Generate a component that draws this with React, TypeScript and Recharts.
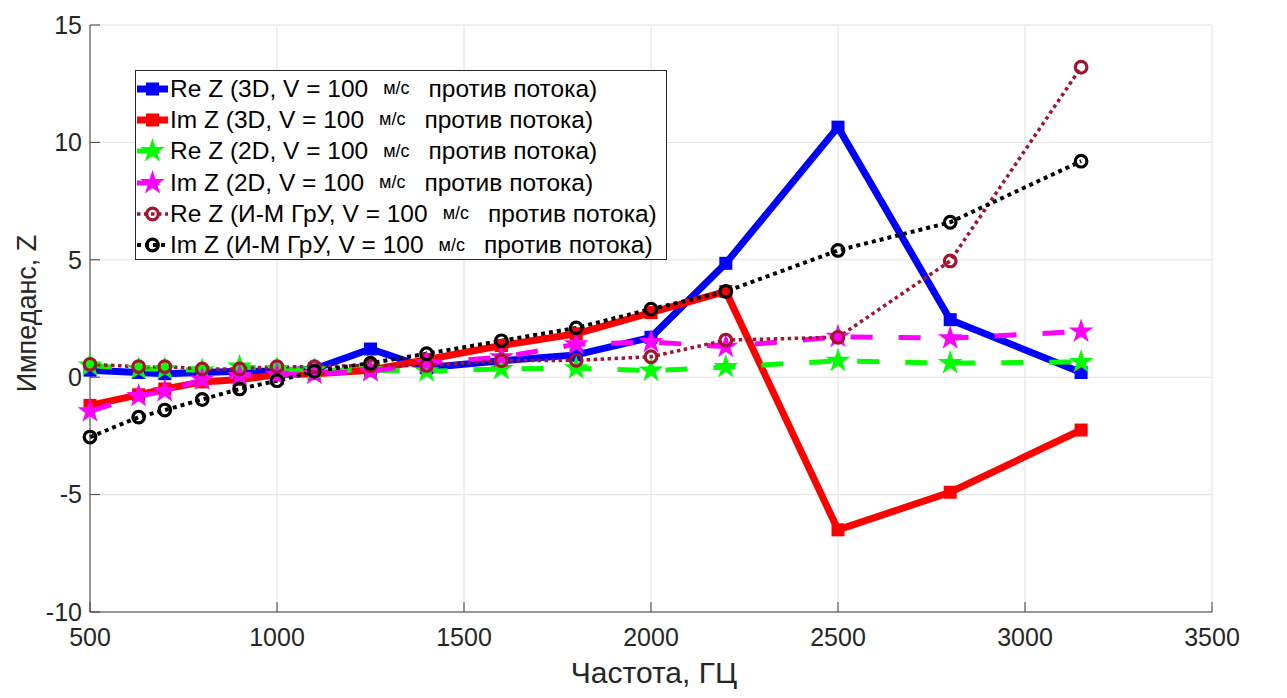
import { CartesianGrid, Legend, Line, LineChart, XAxis, YAxis } from "recharts";

// ---------------------------------------------------------------------------
// Data
// ---------------------------------------------------------------------------

const FREQ = [500, 630, 700, 800, 900, 1000, 1100, 1250, 1400, 1600, 1800, 2000, 2200, 2500, 2800, 3150];

const RE_3D = [0.3, 0.2, 0.15, 0.2, 0.25, 0.25, 0.35, 1.2, 0.4, 0.7, 0.95, 1.7, 4.85, 10.65, 2.45, 0.2];
const IM_3D = [-1.2, -0.75, -0.5, -0.2, -0.1, 0.1, 0.15, 0.3, 0.75, 1.35, 1.85, 2.75, 3.65, -6.5, -4.9, -2.25];
const RE_2D = [0.5, 0.35, 0.35, 0.3, 0.45, 0.35, 0.3, 0.3, 0.25, 0.35, 0.38, 0.28, 0.43, 0.7, 0.6, 0.65];
const IM_2D = [-1.45, -0.8, -0.6, -0.1, 0.05, 0.1, 0.15, 0.25, 0.6, 0.85, 1.4, 1.5, 1.3, 1.72, 1.66, 1.95];
const RE_IM = [0.55, 0.45, 0.45, 0.35, 0.35, 0.45, 0.45, 0.5, 0.5, 0.7, 0.72, 0.87, 1.58, 1.7, 4.95, 13.2];
const IM_IM = [-2.55, -1.7, -1.4, -0.95, -0.5, -0.15, 0.25, 0.6, 1.0, 1.55, 2.1, 2.9, 3.65, 5.4, 6.6, 9.2];

const X_TICKS = [500, 1000, 1500, 2000, 2500, 3000, 3500];
const Y_TICKS = [-10, -5, 0, 5, 10, 15];

const X_LABEL = "Частота, ГЦ";
const Y_LABEL = "Импеданс, Z";

const SERIES = [
  { key: "re3d", values: RE_3D, head: "Re Z (3D, V = 100", color: "#0000ff", width: 7, dash: undefined, marker: "square" },
  { key: "im3d", values: IM_3D, head: "Im Z (3D, V = 100", color: "#ff0000", width: 7, dash: undefined, marker: "square" },
  { key: "re2d", values: RE_2D, head: "Re Z (2D, V = 100", color: "#00ff00", width: 5, dash: "22 26", marker: "star" },
  { key: "im2d", values: IM_2D, head: "Im Z (2D, V = 100", color: "#ff00ff", width: 5, dash: "22 26", marker: "star" },
  { key: "reim", values: RE_IM, head: "Re Z (И-М ГрУ, V = 100", color: "#a2142f", width: 3.5, dash: "3.5 3.5", marker: "circle" },
  { key: "imim", values: IM_IM, head: "Im Z (И-М ГрУ, V = 100", color: "#000000", width: 4, dash: "4 4", marker: "circle" },
];

const TEXT = "#262626";
const FONT = "'Liberation Sans', Arial, sans-serif";

const data = FREQ.map((f, i) => {
  const row: Record<string, number> = { freq: f };
  SERIES.forEach((s) => (row[s.key] = s.values[i]));
  return row;
});

// ---------------------------------------------------------------------------
// Marker shapes (MATLAB style: filled square, pentagram, open circle)
// ---------------------------------------------------------------------------

function starPath(cx: number, cy: number, r: number) {
  const pts: string[] = [];
  for (let k = 0; k < 10; k++) {
    const rad = k % 2 === 0 ? r : r * 0.382;
    const a = -Math.PI / 2 + (k * Math.PI) / 5;
    pts.push(`${(cx + rad * Math.cos(a)).toFixed(2)},${(cy + rad * Math.sin(a)).toFixed(2)}`);
  }
  return `M${pts.join("L")}Z`;
}

function marker(kind: string, color: string, cx: number, cy: number, key?: string) {
  if (kind === "square")
    return <rect key={key} x={cx - 6.5} y={cy - 6.5} width={13} height={13} fill={color} />;
  if (kind === "star") return <path key={key} d={starPath(cx, cy, 13)} fill={color} />;
  return <circle key={key} cx={cx} cy={cy} r={5.8} fill="none" stroke={color} strokeWidth={3.2} />;
}

// ---------------------------------------------------------------------------
// Legend box
// ---------------------------------------------------------------------------

function LegendBox() {
  return (
    <div
      style={{
        width: 532,
        height: 190,
        border: "1px solid #262626",
        background: "#fff",
        fontFamily: FONT,
        color: "#000",
        paddingTop: 2,
        boxSizing: "border-box",
      }}
    >
      {SERIES.map((s) => (
        <div key={s.key} style={{ display: "flex", alignItems: "center", height: 31.3, whiteSpace: "pre" }}>
          <svg width={34} height={30} style={{ flex: "none" }}>
            <line x1={1} x2={32} y1={15} y2={15} stroke={s.color} strokeWidth={s.width} strokeDasharray={s.dash} />
            {marker(s.marker, s.color, 16.5, 15)}
          </svg>
          <span style={{ fontSize: 24.5 }}>{s.head}</span>
          <span style={{ fontSize: 18, marginLeft: 15, marginRight: 19 }}>м/с</span>
          <span style={{ fontSize: 24.5 }}>против потока)</span>
        </div>
      ))}
    </div>
  );
}

export default function App() {
  return (
    <div style={{ position: "absolute", left: 0, top: 0, width: 1287, height: 698, background: "#fff" }}>
      <LineChart width={1287} height={698} data={data} margin={{ top: 25, right: 75, bottom: 0, left: 0 }}>
        <CartesianGrid stroke="#e0e0e0" strokeWidth={1} />
        <XAxis
          dataKey="freq"
          type="number"
          domain={[500, 3500]}
          ticks={X_TICKS}
          interval={0}
          height={86}
          stroke="#404040"
          tickSize={-10}
          tickMargin={26}
          tick={{ fill: TEXT, fontSize: 25, fontFamily: FONT }}
          label={({ viewBox }: any) => (
            <text
              x={viewBox.x + viewBox.width / 2 + 3}
              y={viewBox.y + 71}
              textAnchor="middle"
              fill={TEXT}
              fontSize={30}
              fontFamily={FONT}
            >
              {X_LABEL}
            </text>
          )}
        />
        <YAxis
          type="number"
          domain={[-10, 15]}
          ticks={Y_TICKS}
          interval={0}
          width={90}
          stroke="#404040"
          tickSize={-10}
          tickMargin={18}
          tick={{ fill: TEXT, fontSize: 25, fontFamily: FONT }}
          label={({ viewBox }: any) => (
            <text
              transform={`translate(${viewBox.x + 36}, ${viewBox.y + viewBox.height / 2 - 5}) rotate(-90)`}
              textAnchor="middle"
              fill={TEXT}
              fontSize={27}
              fontFamily={FONT}
            >
              {Y_LABEL}
            </text>
          )}
        />
        <Legend
          layout="vertical"
          align="center"
          verticalAlign="middle"
          content={() => <LegendBox />}
          wrapperStyle={{ left: 135, top: 70, width: 532, height: 190 }}
        />
        {SERIES.map((s) => (
          <Line
            key={s.key}
            dataKey={s.key}
            type="linear"
            stroke={s.color}
            strokeWidth={s.width}
            strokeDasharray={s.dash}
            isAnimationActive={false}
            activeDot={false}
            dot={(p: any) => marker(s.marker, s.color, p.cx, p.cy, `${s.key}-${p.index}`)}
          />
        ))}
      </LineChart>
    </div>
  );
}
